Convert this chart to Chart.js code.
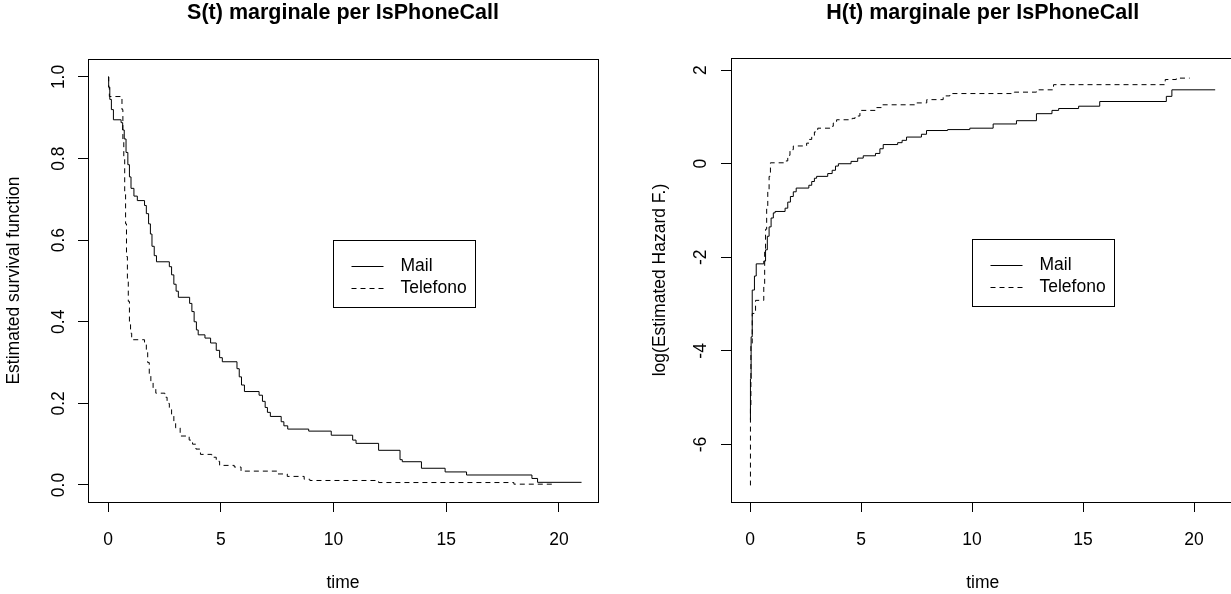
<!DOCTYPE html>
<html>
<head>
<meta charset="utf-8">
<script src="https://cdn.jsdelivr.net/npm/chart.js@4.4.1/dist/chart.umd.min.js"></script>
<style>
  html, body { margin: 0; padding: 0; background: #fff; overflow: hidden; }
  #wrap { position: relative; width: 1231px; height: 594px; overflow: hidden; }
  canvas { position: absolute; top: 0; }
  #left { left: 0; }
  #right { left: 616px; }
</style>
</head>
<body>
<div id="wrap">
  <canvas id="left" width="616" height="594"></canvas>
  <canvas id="right" width="640" height="594"></canvas>
</div>
<script>
// valori (curve a gradini)
const groups = ['Mail', 'Telefono'];

const mailTime = [0, 0.03, 0.08, 0.15, 0.24, 0.58, 0.65, 0.72, 0.8, 0.88, 0.95, 1.02, 1.15, 1.3, 1.62, 1.7, 1.8, 1.88, 1.95, 2.05, 2.15, 2.72, 2.82, 2.92, 3.02, 3.12, 3.62, 3.72, 3.82, 3.92, 4.0, 4.3, 4.55, 4.8, 4.95, 5.07, 5.72, 5.82, 5.92, 6.05, 6.7, 6.85, 6.97, 7.07, 7.2, 7.68, 7.8, 7.97, 8.9, 9.9, 10.85, 11.0, 12.0, 12.95, 13.05, 13.9, 14.95, 15.9, 18.8, 19.05, 21.0];
const mailSurv = [1.0, 0.975, 0.945, 0.92, 0.895, 0.888, 0.87, 0.848, 0.815, 0.785, 0.755, 0.727, 0.708, 0.697, 0.685, 0.665, 0.64, 0.615, 0.585, 0.562, 0.547, 0.535, 0.515, 0.492, 0.475, 0.46, 0.445, 0.425, 0.4, 0.38, 0.368, 0.36, 0.348, 0.33, 0.312, 0.302, 0.285, 0.265, 0.245, 0.229, 0.22, 0.205, 0.19, 0.178, 0.168, 0.155, 0.145, 0.137, 0.132, 0.122, 0.11, 0.102, 0.085, 0.062, 0.057, 0.041, 0.032, 0.0245, 0.016, 0.0065, 0.0065];

const phoneTime = [0, 0.03, 0.06, 0.62, 0.66, 0.7, 0.74, 0.78, 0.82, 0.86, 0.9, 0.95, 1.0, 1.05, 1.62, 1.7, 1.76, 1.83, 1.9, 2.0, 2.12, 2.52, 2.62, 2.72, 2.82, 2.92, 3.0, 3.2, 3.6, 3.75, 3.9, 4.1, 4.6, 4.8, 4.95, 5.6, 5.9, 7.5, 7.95, 8.7, 8.95, 12.0, 18.0, 19.8];
const phoneSurv = [1.0, 0.975, 0.952, 0.92, 0.84, 0.8, 0.72, 0.64, 0.56, 0.5, 0.45, 0.4, 0.372, 0.356, 0.345, 0.325, 0.3, 0.27, 0.25, 0.236, 0.225, 0.215, 0.2, 0.185, 0.17, 0.155, 0.14, 0.12, 0.11, 0.1, 0.088, 0.075, 0.068, 0.058, 0.048, 0.044, 0.034, 0.027, 0.021, 0.014, 0.011, 0.006, 0.002, 0.002];

const mailHazTime = [0, 0.02, 0.05, 0.1, 0.2, 0.28, 0.62, 0.7, 0.78, 0.86, 0.95, 1.05, 1.13, 1.58, 1.7, 1.82, 1.95, 2.08, 2.65, 2.78, 2.9, 3.0, 3.5, 3.7, 3.85, 3.98, 4.55, 4.85, 5.1, 5.65, 5.85, 6.0, 6.65, 6.85, 7.05, 7.72, 7.95, 8.9, 9.9, 10.95, 12.0, 12.9, 13.6, 13.9, 14.8, 15.75, 18.75, 19.0, 20.95];
const mailLogHaz = [-5.48, -4.6, -3.7, -2.7, -2.4, -2.14, -2.08, -1.84, -1.55, -1.35, -1.16, -1.05, -1.02, -0.95, -0.82, -0.7, -0.6, -0.52, -0.46, -0.38, -0.31, -0.27, -0.21, -0.14, -0.05, 0.0, 0.05, 0.12, 0.17, 0.22, 0.32, 0.41, 0.45, 0.5, 0.57, 0.63, 0.71, 0.73, 0.76, 0.85, 0.92, 1.07, 1.14, 1.18, 1.23, 1.33, 1.44, 1.58, 1.58];

const phoneHazTime = [0, 0.02, 0.04, 0.1, 0.25, 0.62, 0.66, 0.7, 0.75, 0.8, 0.86, 0.92, 1.62, 1.7, 1.8, 1.95, 2.55, 2.66, 2.78, 2.9, 3.05, 3.6, 3.75, 3.9, 4.6, 4.73, 4.95, 5.7, 5.95, 7.5, 7.96, 8.7, 9.0, 11.9, 12.9, 13.67, 18.7, 19.2, 19.8];
const phoneLogHaz = [-6.87, -5.2, -3.9, -3.2, -2.92, -2.6, -1.85, -1.4, -0.91, -0.55, -0.27, 0.02, 0.06, 0.18, 0.3, 0.38, 0.44, 0.52, 0.6, 0.68, 0.76, 0.8, 0.87, 0.94, 0.97, 1.02, 1.14, 1.2, 1.26, 1.3, 1.37, 1.45, 1.5, 1.53, 1.58, 1.69, 1.8, 1.83, 1.83];

const timeTicks = [0, 5, 10, 15, 20];
const survTicks = [0, 0.2, 0.4, 0.6, 0.8, 1.0];
const hazTicks = [-6, -4, -2, 0, 2];

const FONT = '"Liberation Sans", Arial, sans-serif';
const FS = 17.5;
Chart.defaults.font.family = FONT;
Chart.defaults.color = '#000';

function series(label, xs, ys, dash) {
  return {
    label: label,
    data: xs.map((x, i) => ({ x: x, y: ys[i] })),
    borderColor: '#000',
    borderWidth: 1,
    borderDash: dash,
    pointRadius: 0,
    stepped: 'before',
    fill: false
  };
}

// riquadro attorno all'area del grafico, come box() in R
const boxPlugin = {
  id: 'rBox',
  afterDatasetsDraw(chart) {
    const { ctx, chartArea: a } = chart;
    ctx.save();
    ctx.strokeStyle = '#000';
    ctx.lineWidth = 1;
    ctx.strokeRect(Math.round(a.left) + 0.5, Math.round(a.top) + 0.5,
      Math.round(a.right - a.left), Math.round(a.bottom - a.top));
    ctx.restore();
  }
};

const titlePlugin = {
  id: 'rTitle',
  afterDraw(chart, args, opts) {
    const { ctx, chartArea: a } = chart;
    ctx.save();
    ctx.font = 'bold 21.5px ' + FONT;
    ctx.fillStyle = '#000';
    ctx.textAlign = 'center';
    ctx.textBaseline = 'middle';
    ctx.fillText(opts.text, (a.left + a.right) / 2, opts.y);
    ctx.restore();
  }
};

// legenda nello stile di legend(x, y, ...) di R
const legendPlugin = {
  id: 'rLegend',
  afterDraw(chart, args, opts) {
    const ctx = chart.ctx;
    const x0 = Math.round(chart.scales.x.getPixelForValue(opts.x)) + 0.5;
    const y0 = Math.round(chart.scales.y.getPixelForValue(opts.y)) + 0.5;
    ctx.save();
    ctx.font = FS + 'px ' + FONT;
    const widths = chart.data.datasets.map(d => ctx.measureText(d.label).width);
    const w = Math.round(67 + Math.max(...widths) + 9);
    ctx.strokeStyle = '#000';
    ctx.lineWidth = 1;
    ctx.strokeRect(x0, y0, w, 67);
    ctx.fillStyle = '#000';
    ctx.textBaseline = 'middle';
    chart.data.datasets.forEach((d, i) => {
      const yy = Math.round(y0 + 25 + i * 22.5) + 0.5;
      ctx.setLineDash(d.borderDash || []);
      ctx.beginPath();
      ctx.moveTo(x0 + 18, yy);
      ctx.lineTo(x0 + 50, yy);
      ctx.stroke();
      ctx.setLineDash([]);
      ctx.fillText(d.label, x0 + 67, yy);
    });
    ctx.restore();
  }
};

function makeChart(id, c) {
  return new Chart(document.getElementById(id), {
    type: 'line',
    data: {
      datasets: [
        series(groups[0], c.mx, c.my, []),
        series(groups[1], c.px, c.py, [5, 4])
      ]
    },
    options: {
      responsive: false,
      animation: false,
      devicePixelRatio: 1,
      layout: { padding: c.padding },
      plugins: {
        legend: { display: false },
        tooltip: { enabled: false },
        rTitle: { text: c.title, y: 13 },
        rLegend: { x: c.legX, y: c.legY }
      },
      scales: {
        x: {
          type: 'linear',
          min: c.xmin,
          max: c.xmax,
          afterBuildTicks: s => { s.ticks = timeTicks.map(v => ({ value: v })); },
          afterFit: s => { s.height = 92; },
          border: { display: false },
          grid: { drawOnChartArea: false, tickLength: 10, color: '#000' },
          ticks: { font: { size: FS }, padding: 17.5, maxRotation: 0, autoSkip: false, callback: v => String(v) },
          title: { display: true, text: 'time', font: { size: FS }, padding: { top: 0, bottom: 0.5 } }
        },
        y: {
          min: c.ymin,
          max: c.ymax,
          afterBuildTicks: s => { s.ticks = c.yTicks.map(v => ({ value: v })); },
          afterFit: s => { s.width = c.yWidth; },
          border: { display: false },
          grid: { drawOnChartArea: false, tickLength: 10, color: '#000' },
          ticks: { font: { size: FS }, padding: c.yPad, minRotation: 90, maxRotation: 90, crossAlign: 'center', autoSkip: false, callback: c.yFmt },
          title: { display: true, text: c.yTitle, font: { size: FS }, padding: { top: c.yTitlePad, bottom: 0 } }
        }
      }
    },
    plugins: [boxPlugin, titlePlugin, legendPlugin]
  });
}

makeChart('left', {
  title: 'S(t) marginale per IsPhoneCall',
  yTitle: 'Estimated survival function',
  mx: mailTime, my: mailSurv, px: phoneTime, py: phoneSurv,
  xmin: -0.887, xmax: 21.73, ymin: -0.0417, ymax: 1.044,
  yTicks: survTicks, yFmt: v => v.toFixed(1),
  yWidth: 88, yPad: 6.3, yTitlePad: 3.5,
  padding: { left: 0, top: 59, right: 18, bottom: 0 },
  legX: 10, legY: 0.6
});

makeChart('right', {
  title: 'H(t) marginale per IsPhoneCall',
  yTitle: 'log(Estimated Hazard F.)',
  mx: mailHazTime, my: mailLogHaz, px: phoneHazTime, py: phoneLogHaz,
  xmin: -0.856, xmax: 21.82, ymin: -7.23, ymax: 2.26,
  yTicks: hazTicks, yFmt: v => String(v),
  yWidth: 115, yPad: 12.2, yTitlePad: 33.5,
  padding: { left: 0, top: 58, right: 21.5, bottom: 0 },
  legX: 10, legY: -1.6
});
</script>
</body>
</html>
